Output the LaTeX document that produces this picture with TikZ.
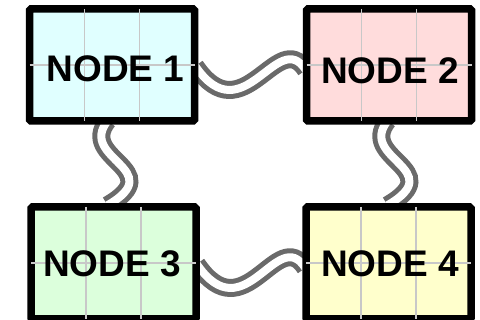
\documentclass[tikz,border=0pt]{standalone}
\usepackage{fontspec}
\setmainfont{Liberation Sans}
\usetikzlibrary{calc,backgrounds}

\definecolor{fillcyan}{HTML}{E0FFFF}
\definecolor{fillpink}{HTML}{FFDCDC}
\definecolor{fillgreen}{HTML}{DCFFDC}
\definecolor{fillyellow}{HTML}{FFFFCC}
\definecolor{gridgray}{HTML}{C8C8C8}
\definecolor{conngray}{HTML}{6A6A6A}

\begin{document}
\begin{tikzpicture}[x=1pt,y=1pt,
  box/.style={draw=black, line width=7.5pt, rounded corners=1.5pt,
    minimum width=165pt, minimum height=112pt, inner sep=0pt},
  gridline/.style={draw=gridgray, line width=1.8pt},
  boxlabel/.style={font=\fontsize{37}{37}\selectfont\bfseries,
    anchor=base, inner sep=0pt},
  conn/.style={draw=conngray, line width=5pt, double=white,
    double distance=8pt}]

\useasboundingbox (0,0) rectangle (480,320);
\clip (0,0) rectangle (480,320);

% boxes
\node[box, fill=fillcyan]   (n1) at (112,255)   {};
\node[box, fill=fillpink]   (n2) at (389,255)   {};
\node[box, fill=fillgreen]  (n3) at (113.5,57)  {};
\node[box, fill=fillyellow] (n4) at (388.5,57)  {};

% thin grid inside every box: thirds across, halves down
\foreach \n in {n1,n2,n3,n4} {
  \coordinate (tl) at ([shift={(3.75,-3.75)}]\n.north west);
  \coordinate (br) at ([shift={(-3.75,3.75)}]\n.south east);
  \draw[gridline] ($(tl)!1/3!(tl-|br)$) -- ($(tl|-br)!1/3!(br)$);
  \draw[gridline] ($(tl)!2/3!(tl-|br)$) -- ($(tl|-br)!2/3!(br)$);
  \draw[gridline] ($(tl)!0.5!(tl|-br)$) -- ($(tl-|br)!0.5!(br)$);
}

% labels
\node[boxlabel] (t1) at (115.5,238.3) {NODE 1};
\node[boxlabel] (t2) at (390,236.7)   {NODE 2};
\node[boxlabel] (t3) at (112,43.3)    {NODE 3};
\node[boxlabel] (t4) at (390,43.3)    {NODE 4};

% wavy double connectors, tucked under the box borders
\begin{scope}[on background layer]
  % horizontal links
  \coordinate (h1s) at ([shift={(-3,-1)}]n1.east);
  \coordinate (h1e) at ([shift={(3,-5)}]n2.west);
  \draw[conn] (h1s) .. controls ($(h1s)+(48,-70)$) and ($(h1e)+(-28,44)$) .. (h1e);
  \coordinate (h2s) at ([shift={(-3,-1)}]n3.east);
  \coordinate (h2e) at ([shift={(3,-5)}]n4.west);
  \draw[conn] (h2s) .. controls ($(h2s)+(48,-70)$) and ($(h2e)+(-28,44)$) .. (h2e);
  % vertical links
  \coordinate (v1s) at ([shift={(-4.5,3.75)}]n1.south);
  \coordinate (v1e) at ([shift={(-6,-2)}]n3.north);
  \draw[conn] (v1s) .. controls ($(v1s)+(-30,-38)$) and ($(v1e)+(62,36)$) .. (v1e);
  \coordinate (v2s) at ([shift={(-1.5,3.75)}]n2.south);
  \coordinate (v2e) at ([shift={(-1,-2)}]n4.north);
  \draw[conn] (v2s) .. controls ($(v2s)+(-30,-38)$) and ($(v2e)+(62,36)$) .. (v2e);
\end{scope}
\end{tikzpicture}
\end{document}
